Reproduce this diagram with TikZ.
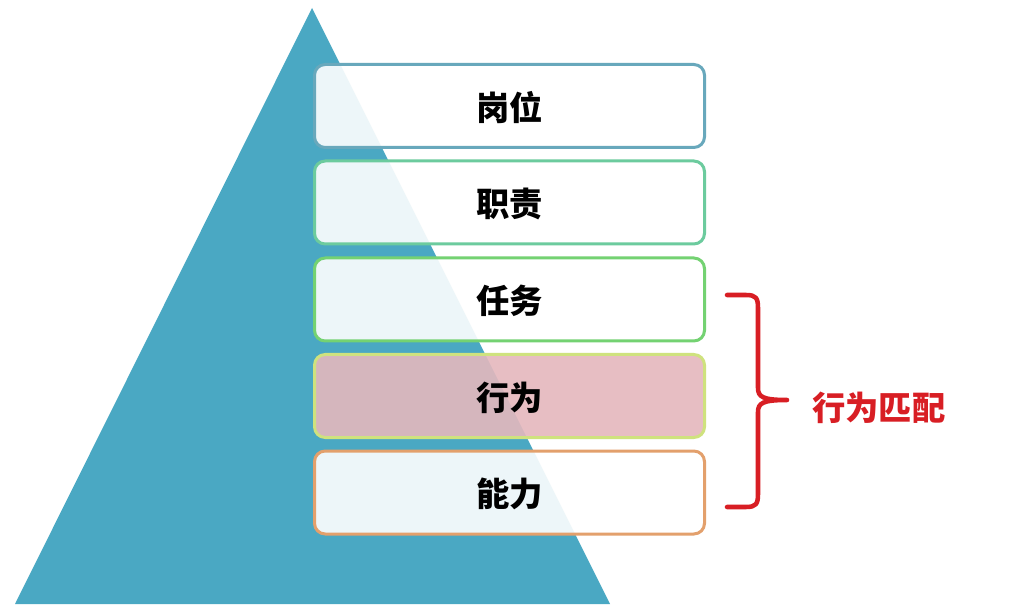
\documentclass[tikz,border=0pt]{standalone}
\usepackage{fontspec}
\newfontfamily\cjk{Noto Sans CJK SC}
\usetikzlibrary{positioning}
\definecolor{pyramid}{HTML}{4AA8C3}
\definecolor{lineA}{HTML}{68A8BC}
\definecolor{lineB}{HTML}{6CCB9E}
\definecolor{lineC}{HTML}{74D272}
\definecolor{lineD}{HTML}{CFE27E}
\definecolor{lineE}{HTML}{E3A06C}
\definecolor{rosy}{HTML}{E5B8BD}
\definecolor{matchred}{HTML}{D81E24}
\tikzset{
  level/.style 2 args={draw=#1, fill=#2, fill opacity=0.9, text opacity=1,
    line width=2.25pt, rounded corners=8pt, inner sep=0pt,
    minimum width=292.5pt, minimum height=62.25pt,
    font=\cjk\bfseries\fontsize{25}{30}\selectfont},
  brace/.style={draw=matchred, line width=3.4pt, line cap=round, line join=round}
}

\begin{document}
\begin{tikzpicture}[x=0.75pt, y=-0.75pt]
\useasboundingbox[fill=white] (0,0) rectangle (1024,609);
% pyramid behind the boxes
\fill[pyramid] (312,8) -- (610,604) -- (15,604) -- cycle;
% the five levels
\foreach \name/\txt/\col/\bg/\y in {post/岗位/lineA/white/106, duty/职责/lineB/white/202.5,
  task/任务/lineC/white/299.5, act/行为/lineD/rosy/396, skill/能力/lineE/white/492.5}
\node[level={\col}{\bg}, text height=24pt] (\name) at (509.5,\y) {\txt};
% bracket on the right
\coordinate (top) at (727,295);
\coordinate (tip) at (787,400);
\coordinate (bot) at (727,507);
\draw[brace] (top) -- (746,295) .. controls (756,295) and (758,298) .. (758,308)
  -- (758,388) .. controls (758,397) and (763,400) .. (tip)
  .. controls (763,400) and (758,403) .. (758,412)
  -- (758,494) .. controls (758,504) and (756,507) .. (746,507) -- (bot);
\node[right=18.75pt of tip, yshift=-6pt, inner sep=0pt, text=matchred,
  font=\cjk\bfseries\fontsize{25}{30}\selectfont] (match) {行为匹配};
\end{tikzpicture}
\end{document}
